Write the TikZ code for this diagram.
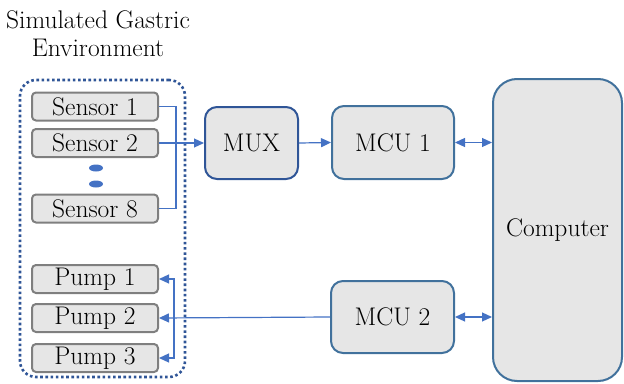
\documentclass[tikz,border=0pt]{standalone}
\usepackage{tikz}
\usetikzlibrary{positioning,arrows.meta}
\definecolor{Frame}{HTML}{2F5597}
\definecolor{Steel}{HTML}{41719C}
\definecolor{Wire}{HTML}{4472C4}
\definecolor{Edge}{HTML}{7F7F7F}
\definecolor{Panel}{HTML}{E6E6E6}

\begin{document}
\begin{tikzpicture}[x=1pt,y=-1pt,font=\fontsize{25.5}{28}\selectfont,
  unitbox/.style={draw=Edge,line width=2pt,fill=Panel,rounded corners=4pt,
    minimum width=126pt,minimum height=28pt,inner sep=0pt},
  blockbox/.style={draw=Steel,line width=2pt,fill=Panel,rounded corners=12pt,inner sep=0pt},
  wire/.style={Wire,line width=1.2pt},
  tip/.style={-{Triangle[length=10pt,width=9pt]}},
  dtip/.style={{Triangle[length=10pt,width=9pt]}-{Triangle[length=10pt,width=9pt]}}]
  \useasboundingbox (0,0) rectangle (624,383);
  % environment frame and title
  \node[draw=Frame,line width=2.6pt,dash pattern=on 2.6pt off 2.6pt,rounded corners=16pt,
    minimum width=165pt,minimum height=297pt] (env) at (102.5,228.5) {};
  \node[align=center] (title) at (98,34) {Simulated Gastric\\Environment};
  % sensors
  \node[unitbox] (s1) at (95,106.5) {Sensor 1};
  \node[unitbox] (s2) at (95,143) {Sensor 2};
  \node[unitbox] (s8) at (95,208.5) {Sensor 8};
  \fill[Wire] (96,168) ellipse (7 and 3.5);
  \fill[Wire] (96,184) ellipse (7 and 3.5);
  % pumps
  \node[unitbox] (p1) at (95,279) {Pump 1};
  \node[unitbox] (p2) at (95,318) {Pump 2};
  \node[unitbox] (p3) at (95,358) {Pump 3};
  % processing blocks
  \node[blockbox,draw=Frame,minimum width=93pt,minimum height=72pt] (mux) at (251.5,143) {MUX};
  \node[blockbox,minimum width=122pt,minimum height=73pt] (mcu1) at (393,142.5) {MCU 1};
  \node[blockbox,minimum width=123pt,minimum height=72pt] (mcu2) at (392.5,317) {MCU 2};
  \node[blockbox,rounded corners=24pt,minimum width=129pt,minimum height=302pt] (pc) at (557.5,230) {Computer};
  % connections
  \draw[wire] (s1.east) -- ++(17,0) |- (s8.east);
  \draw[wire,tip] (s2.east) -- (mux.west);
  \draw[wire,tip] (mux.east) -- (mcu1.west);
  \draw[wire,dtip] (mcu1.east) -- (mcu1.east -| pc.west);
  \draw[wire,dtip] (mcu2.east) -- (mcu2.east -| pc.west);
  \draw[wire,tip] (mcu2.west) -- (p2.east);
  \draw[wire,dtip] (p1.east) -- ++(15,0) |- (p3.east);
\end{tikzpicture}
\end{document}
